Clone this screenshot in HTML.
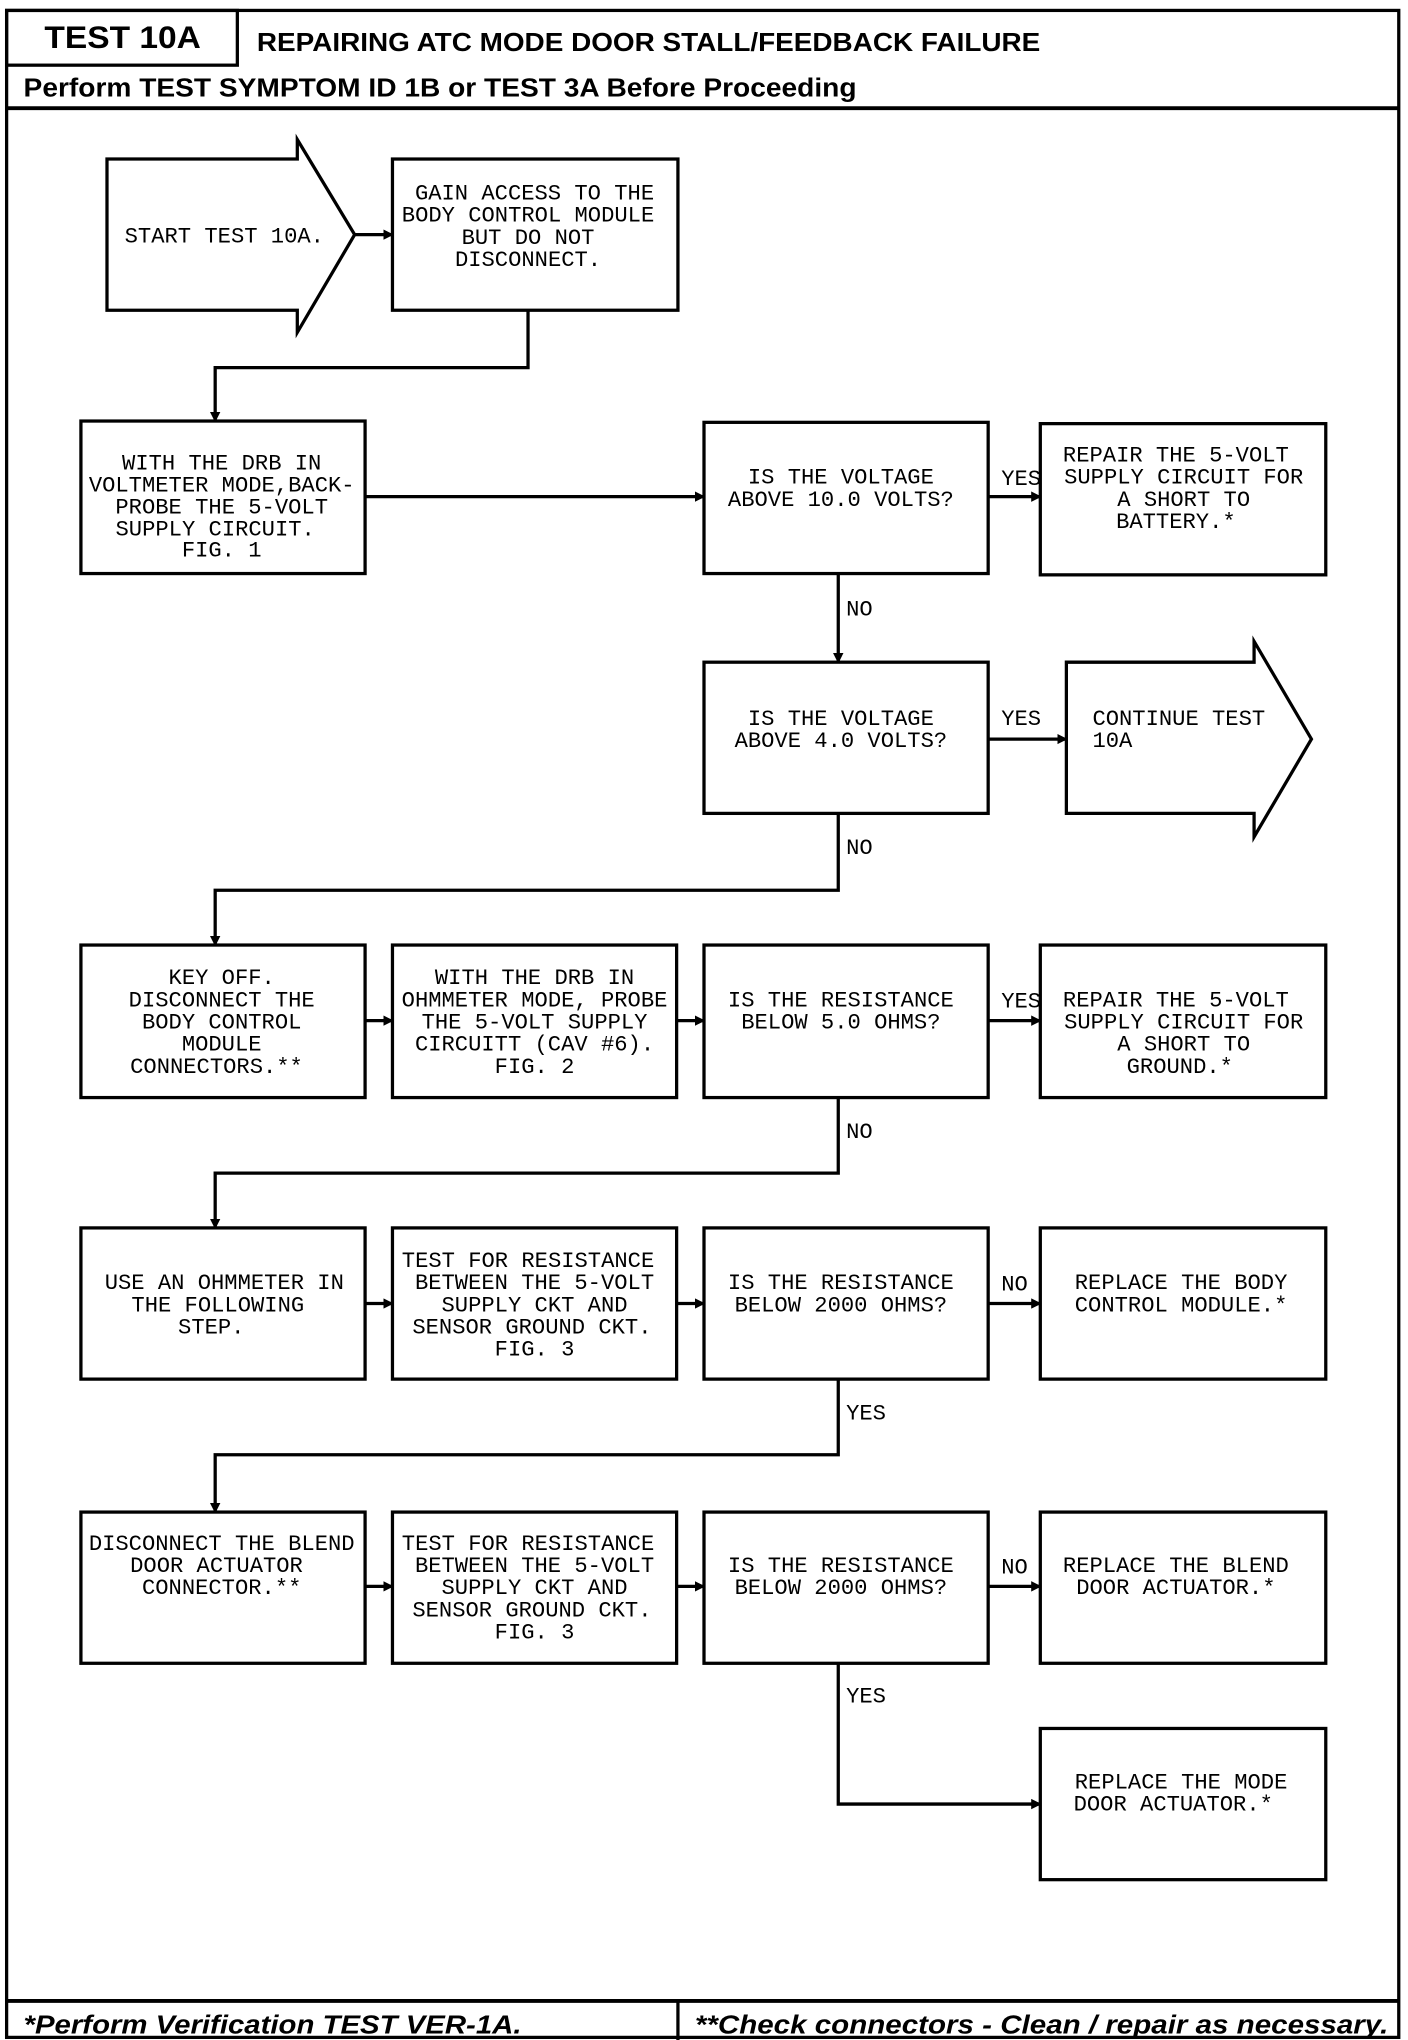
<!DOCTYPE html>
<html><head><meta charset="utf-8"><style>
html,body{margin:0;padding:0;background:#fff;}
svg{display:block;}
.t{font-family:"Liberation Mono",monospace;font-size:17px;fill:#000;}
.c{text-anchor:middle;}
.h{font-family:"Liberation Sans",sans-serif;font-weight:bold;fill:#000;}
</style></head><body>
<svg width="1408" height="2040" viewBox="0 0 1080 1565" xmlns="http://www.w3.org/2000/svg">
<defs><marker id="a" markerWidth="8" markerHeight="8" refX="7" refY="4" orient="auto" markerUnits="userSpaceOnUse"><path d="M0,0 L8,4 L0,8 Z" fill="#000"/></marker></defs>
<g fill="none" stroke="#000" stroke-width="2.5">
<rect x="5" y="8" width="1068" height="1555"/>
<rect x="5" y="8" width="177" height="42"/>
<line x1="5" y1="83" x2="1073" y2="83" stroke-width="3"/>
<line x1="5" y1="1535" x2="1073" y2="1535" stroke-width="3"/>
<line x1="520" y1="1535" x2="520" y2="1565"/>
<polygon points="82,122 228,122 228,107 272,180 228,255 228,238 82,238"/>
<rect x="301" y="122" width="219" height="116"/>
<rect x="62" y="323" width="218" height="117"/>
<rect x="540" y="324" width="218" height="116"/>
<rect x="798" y="325" width="219" height="116"/>
<rect x="540" y="508" width="218" height="116"/>
<polygon points="818,508 962,508 962,492 1006,567 962,642 962,624 818,624"/>
<rect x="62" y="725" width="218" height="117"/>
<rect x="301" y="725" width="218" height="117"/>
<rect x="540" y="725" width="218" height="117"/>
<rect x="798" y="725" width="219" height="117"/>
<rect x="62" y="942" width="218" height="116"/>
<rect x="301" y="942" width="218" height="116"/>
<rect x="540" y="942" width="218" height="116"/>
<rect x="798" y="942" width="219" height="116"/>
<rect x="62" y="1160" width="218" height="116"/>
<rect x="301" y="1160" width="218" height="116"/>
<rect x="540" y="1160" width="218" height="116"/>
<rect x="798" y="1160" width="219" height="116"/>
<rect x="798" y="1326" width="219" height="116"/>
</g>
<g fill="none" stroke="#000" stroke-width="2.5" marker-end="url(#a)">
<line x1="272" y1="180" x2="301" y2="180"/>
<polyline points="405,238 405,282 165,282 165,323"/>
<line x1="280" y1="381" x2="540" y2="381"/>
<line x1="758" y1="381" x2="798" y2="381"/>
<line x1="643" y1="440" x2="643" y2="508"/>
<line x1="758" y1="567" x2="818" y2="567"/>
<polyline points="643,624 643,683 165,683 165,725"/>
<line x1="280" y1="783" x2="301" y2="783"/>
<line x1="519" y1="783" x2="540" y2="783"/>
<line x1="758" y1="783" x2="798" y2="783"/>
<polyline points="643,842 643,900 165,900 165,942"/>
<line x1="280" y1="1000" x2="301" y2="1000"/>
<line x1="519" y1="1000" x2="540" y2="1000"/>
<line x1="758" y1="1000" x2="798" y2="1000"/>
<polyline points="643,1058 643,1116 165,1116 165,1160"/>
<line x1="280" y1="1217" x2="301" y2="1217"/>
<line x1="519" y1="1217" x2="540" y2="1217"/>
<line x1="758" y1="1217" x2="798" y2="1217"/>
<polyline points="643,1276 643,1384 798,1384"/>
</g>
<text class="h" x="34" y="37" font-size="24" textLength="120" lengthAdjust="spacingAndGlyphs">TEST 10A</text>
<text class="h" x="197" y="39" font-size="20" textLength="601" lengthAdjust="spacingAndGlyphs">REPAIRING ATC MODE DOOR STALL/FEEDBACK FAILURE</text>
<text class="h" x="18" y="74" font-size="20" textLength="639" lengthAdjust="spacingAndGlyphs">Perform TEST SYMPTOM ID 1B or TEST 3A Before Proceeding</text>
<text class="h" x="18" y="1560" font-size="20" font-style="italic" textLength="382" lengthAdjust="spacingAndGlyphs">*Perform Verification TEST VER-1A.</text>
<text class="h" x="533" y="1560" font-size="20" font-style="italic" textLength="532" lengthAdjust="spacingAndGlyphs">**Check connectors - Clean / repair as necessary.</text>
<g class="t c">
<text x="172" y="186">START TEST 10A.</text>
<text x="410" y="153">GAIN ACCESS TO THE</text><text x="405" y="170">BODY CONTROL MODULE</text><text x="405" y="187">BUT DO NOT</text><text x="405" y="204">DISCONNECT.</text>
<text x="170" y="360">WITH THE DRB IN</text><text x="170" y="377">VOLTMETER MODE,BACK-</text><text x="170" y="394">PROBE THE 5-VOLT</text><text x="165" y="411">SUPPLY CIRCUIT.</text><text x="170" y="427">FIG. 1</text>
<text x="645" y="371">IS THE VOLTAGE</text><text x="645" y="388">ABOVE 10.0 VOLTS?</text>
<text x="902" y="354">REPAIR THE 5-VOLT</text><text x="908" y="371">SUPPLY CIRCUIT FOR</text><text x="908" y="388">A SHORT TO</text><text x="902" y="405">BATTERY.*</text>
<text x="645" y="556">IS THE VOLTAGE</text><text x="645" y="573">ABOVE 4.0 VOLTS?</text>
<text x="170" y="755">KEY OFF.</text><text x="170" y="772">DISCONNECT THE</text><text x="170" y="789">BODY CONTROL</text><text x="170" y="806">MODULE</text><text x="166" y="823">CONNECTORS.**</text>
<text x="410" y="755">WITH THE DRB IN</text><text x="410" y="772">OHMMETER MODE, PROBE</text><text x="410" y="789">THE 5-VOLT SUPPLY</text><text x="410" y="806">CIRCUITT (CAV #6).</text><text x="410" y="823">FIG. 2</text>
<text x="645" y="772">IS THE RESISTANCE</text><text x="645" y="789">BELOW 5.0 OHMS?</text>
<text x="902" y="772">REPAIR THE 5-VOLT</text><text x="908" y="789">SUPPLY CIRCUIT FOR</text><text x="908" y="806">A SHORT TO</text><text x="905" y="823">GROUND.*</text>
<text x="172" y="989">USE AN OHMMETER IN</text><text x="167" y="1006">THE FOLLOWING</text><text x="162" y="1023">STEP.</text>
<text x="405" y="972">TEST FOR RESISTANCE</text><text x="410" y="989">BETWEEN THE 5-VOLT</text><text x="410" y="1006">SUPPLY CKT AND</text><text x="408" y="1023">SENSOR GROUND CKT.</text><text x="410" y="1040">FIG. 3</text>
<text x="645" y="989">IS THE RESISTANCE</text><text x="645" y="1006">BELOW 2000 OHMS?</text>
<text x="906" y="989">REPLACE THE BODY</text><text x="906" y="1006">CONTROL MODULE.*</text>
<text x="170" y="1189">DISCONNECT THE BLEND</text><text x="166" y="1206">DOOR ACTUATOR</text><text x="170" y="1223">CONNECTOR.**</text>
<text x="405" y="1189">TEST FOR RESISTANCE</text><text x="410" y="1206">BETWEEN THE 5-VOLT</text><text x="410" y="1223">SUPPLY CKT AND</text><text x="408" y="1240">SENSOR GROUND CKT.</text><text x="410" y="1257">FIG. 3</text>
<text x="645" y="1206">IS THE RESISTANCE</text><text x="645" y="1223">BELOW 2000 OHMS?</text>
<text x="902" y="1206">REPLACE THE BLEND</text><text x="902" y="1223">DOOR ACTUATOR.*</text>
<text x="906" y="1372">REPLACE THE MODE</text><text x="900" y="1389">DOOR ACTUATOR.*</text>
</g>
<g class="t">
<text x="838" y="556">CONTINUE TEST</text><text x="838" y="573">10A</text>
<text x="768" y="372">YES</text>
<text x="649" y="472">NO</text>
<text x="768" y="556">YES</text>
<text x="649" y="655">NO</text>
<text x="768" y="773">YES</text>
<text x="649" y="873">NO</text>
<text x="768" y="990">NO</text>
<text x="649" y="1089">YES</text>
<text x="768" y="1207">NO</text>
<text x="649" y="1306">YES</text>
</g>
</svg>
</body></html>
